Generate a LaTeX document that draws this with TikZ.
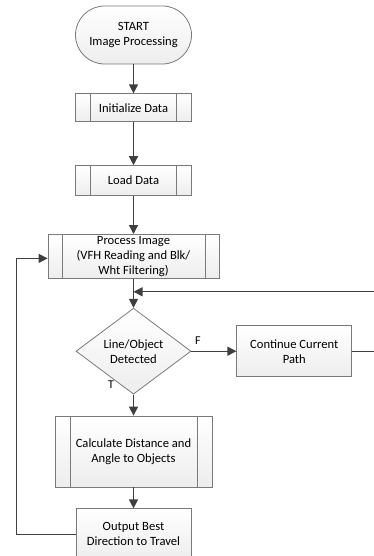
\documentclass[tikz,border=0pt]{standalone}
\usepackage{fontspec}
\setmainfont{Carlito}
\usepackage{tikz}
\usetikzlibrary{arrows.meta,positioning,shapes.geometric}

\definecolor{edgegray}{HTML}{7A7A7A}
\definecolor{arrowgray}{HTML}{3F3F3F}

\begin{document}
\begin{tikzpicture}[x=1pt,y=1pt,
  font=\fontsize{12.6}{15}\selectfont,
  box/.style={draw=edgegray,line width=0.8pt,top color=white,bottom color=gray!14,
    align=center,inner sep=1pt},
  predef/.style={box,path picture={
      \draw[edgegray,line width=0.8pt] ([xshift=#1]path picture bounding box.north west) -- ([xshift=#1]path picture bounding box.south west);
      \draw[edgegray,line width=0.8pt] ([xshift=-#1]path picture bounding box.north east) -- ([xshift=-#1]path picture bounding box.south east);}},
  predef/.default=15pt,
  flow/.style={draw=arrowgray,line width=1.3pt,-{Triangle[length=9pt,width=9pt]}},
  lbl/.style={font=\fontsize{12}{13}\selectfont,inner sep=0pt}]
  \useasboundingbox (0,0) rectangle (373,-556);
  \node[box,rounded corners=29pt,minimum width=116pt,minimum height=58pt] (start) at (133.5,-35) {START\\Image Processing};
  \node[predef,minimum width=116pt,minimum height=28pt,below=29pt of start] (init) {Initialize Data};
  \node[predef,minimum width=116pt,minimum height=30pt,below=43pt of init] (load) {Load Data};
  \node[predef=14pt,minimum width=171pt,minimum height=44pt,inner sep=0pt,below=38pt of load] (proc) {Process Image\\(VFH Reading and Blk/\\Wht Filtering)};
  \coordinate[below=13pt of proc] (join);
  \node[box,diamond,shape aspect=1.34,minimum width=115pt,minimum height=86pt,inner sep=0pt,below=29pt of proc] (dec) {Line/Object\\Detected};
  \node[box,minimum width=115pt,minimum height=51pt,right=45pt of dec] (cont) {Continue Current\\Path};
  \node[predef,minimum width=157pt,minimum height=71pt,below=21pt of dec] (calc) {Calculate Distance and\\Angle to Objects};
  \node[box,minimum width=115pt,minimum height=51pt,below=21pt of calc] (out) {Output Best\\Direction to Travel};

  \draw[flow] (start) -- (init);
  \draw[flow] (init) -- (load);
  \draw[flow] (load) -- (proc);
  \draw[flow] (proc) -- (dec);
  \draw[flow] (dec) -- node[pos=0,above right=6pt and 3pt,lbl] (f) {F} (cont);
  \draw[flow] (dec) -- node[pos=0,above left=5pt and 19pt,lbl] (t) {T} (calc);
  \draw[flow] (calc) -- (out);
  \draw[flow] (cont.east) -- ++(23pt,0) |- (join);
  \draw[flow] (out.west) -- ++(-59pt,0) |- ([yshift=-2pt]proc.west);
\end{tikzpicture}
\end{document}
